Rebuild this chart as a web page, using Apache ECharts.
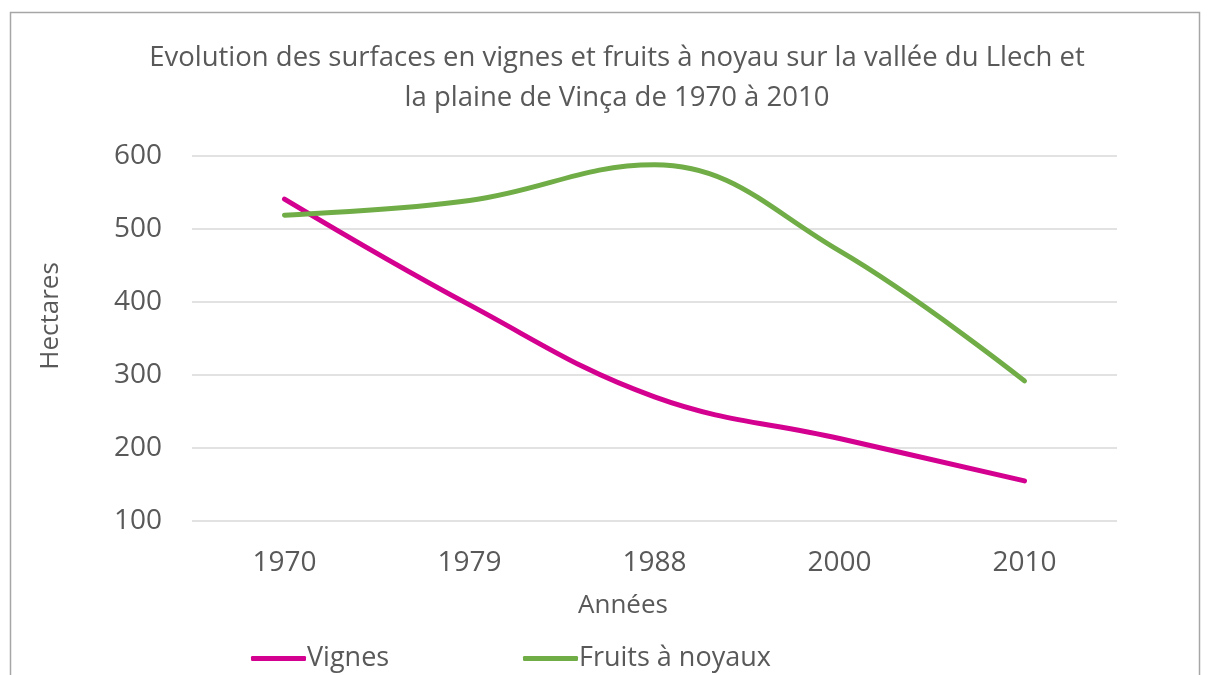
<!DOCTYPE html>
<html>
<head>
<meta charset="utf-8">
<script src="https://cdn.jsdelivr.net/npm/echarts@6/dist/echarts.min.js"></script>
<style>html,body{margin:0;padding:0;background:#fff;}#c{width:1208px;height:675px;}</style>
</head>
<body>
<div id="c"></div>
<script>
const categories = ['1970', '1979', '1988', '2000', '2010'];
const vignes = [541, 396, 270, 213, 155];
const fruits = [519, 539, 588, 470, 292];
const yTicks = [100, 200, 300, 400, 500, 600];

const FONT = 'Open Sans';
const GREY = '#595959';
const chart = echarts.init(document.getElementById('c'));
chart.setOption({
  backgroundColor: '#fff',
  animation: false,
  textStyle: { fontFamily: FONT },
  title: {
    text: 'Evolution des surfaces en vignes et fruits à noyau sur la vallée du Llech et\nla plaine de Vinça de 1970 à 2010',
    left: 612, top: 33, textAlign: 'center',
    textStyle: { fontFamily: FONT, fontSize: 27.5, fontWeight: 'normal', color: GREY, lineHeight: 40 }
  },
  graphic: [
    { type: 'rect', shape: { x: 10.5, y: 12.5, width: 1189, height: 700 }, style: { fill: 'none', stroke: '#a6a6a6', lineWidth: 1.5 }, silent: true },
    { type: 'text', x: 51, y: 316, rotation: Math.PI / 2, style: { text: 'Hectares', fontFamily: FONT, fontSize: 26, fill: GREY, align: 'center', verticalAlign: 'middle' } },
    { type: 'text', x: 623, y: 606, style: { text: 'Années', fontFamily: FONT, fontSize: 26, fill: GREY, align: 'center', verticalAlign: 'middle' } }
  ],
  legend: [
    { data: ['Vignes'], left: 246, top: 640, itemWidth: 55, itemHeight: 5, itemGap: 0, icon: 'roundRect',
      textStyle: { fontFamily: FONT, fontSize: 27, color: GREY, padding: [0, 0, 0, -4] } },
    { data: ['Fruits à noyaux'], left: 518, top: 640, itemWidth: 55, itemHeight: 5, itemGap: 0, icon: 'roundRect',
      textStyle: { fontFamily: FONT, fontSize: 27, color: GREY, padding: [0, 0, 0, -4] } }
  ],
  grid: { left: 192, right: 91, top: 156, bottom: 154 },
  xAxis: {
    type: 'category', data: categories, boundaryGap: true,
    axisLine: { show: false }, axisTick: { show: false },
    axisLabel: { fontFamily: FONT, fontSize: 28, color: GREY, margin: 28 }
  },
  yAxis: {
    type: 'value', min: yTicks[0], max: yTicks[yTicks.length - 1], interval: 100,
    axisLine: { show: false }, axisTick: { show: false },
    axisLabel: { fontFamily: FONT, fontSize: 28, color: GREY, margin: 30 },
    splitLine: { lineStyle: { color: '#d9d9d9', width: 1.5 } }
  },
  series: [
    { name: 'Vignes', type: 'line', data: vignes, smooth: 0.4, showSymbol: false, symbol: 'none',
      itemStyle: { color: '#d4008f' }, lineStyle: { color: '#d4008f', width: 5, cap: 'round' } },
    { name: 'Fruits à noyaux', type: 'line', data: fruits, smooth: 0.4, showSymbol: false, symbol: 'none',
      itemStyle: { color: '#70ad47' }, lineStyle: { color: '#70ad47', width: 5, cap: 'round' } }
  ]
});
</script>
</body>
</html>
